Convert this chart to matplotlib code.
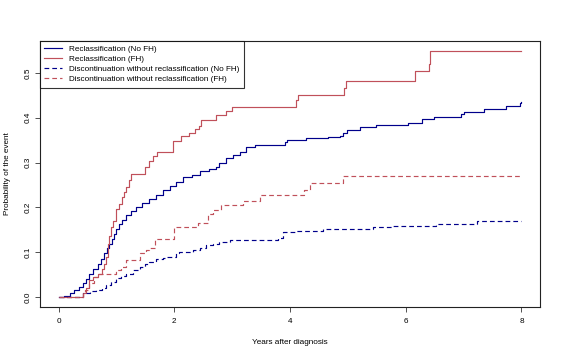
import matplotlib
matplotlib.use("Agg")
import matplotlib.pyplot as plt

# step curves (time in years, cumulative probability)
nofh_reclass_t = [0, 0.10, 0.19, 0.27, 0.36, 0.42, 0.48, 0.53, 0.60, 0.68, 0.73, 0.79, 0.84, 0.88, 0.92,
                  0.96, 1.00, 1.05, 1.10, 1.17, 1.25, 1.34, 1.45, 1.57, 1.68, 1.80, 1.92, 2.03, 2.15, 2.30,
                  2.44, 2.60, 2.72, 2.78, 2.90, 3.01, 3.13, 3.24, 3.39, 3.91, 3.94, 4.28, 4.66, 4.86, 4.92,
                  4.98, 5.21, 5.48, 6.04, 6.28, 6.48, 6.95, 7.00, 7.36, 7.74, 7.97, 8.0]
nofh_reclass_p = [0, 0.003, 0.008, 0.015, 0.022, 0.03, 0.04, 0.052, 0.062, 0.074, 0.085, 0.097, 0.108, 0.119, 0.13,
                  0.141, 0.152, 0.163, 0.172, 0.182, 0.191, 0.2, 0.21, 0.219, 0.228, 0.238, 0.247, 0.256, 0.267, 0.273,
                  0.28, 0.285, 0.29, 0.30, 0.31, 0.316, 0.323, 0.334, 0.34, 0.345, 0.351, 0.355, 0.357, 0.36, 0.367,
                  0.373, 0.379, 0.384, 0.388, 0.397, 0.402, 0.408, 0.413, 0.42, 0.426, 0.433, 0.435]

fh_reclass_t = [0, 0.42, 0.48, 0.53, 0.60, 0.68, 0.75, 0.79, 0.82, 0.85, 0.88, 0.91, 0.95, 0.99, 1.05,
                1.10, 1.14, 1.17, 1.21, 1.25, 1.50, 1.57, 1.64, 1.71, 1.97, 2.12, 2.26, 2.36, 2.42, 2.47,
                2.72, 2.89, 3.00, 4.11, 4.14, 4.93, 4.96, 6.16, 6.40, 6.42, 8.0]
fh_reclass_p = [0, 0.008, 0.02, 0.037, 0.045, 0.05, 0.062, 0.074, 0.09, 0.119, 0.135, 0.156, 0.17, 0.197, 0.208,
                0.222, 0.235, 0.245, 0.26, 0.275, 0.29, 0.304, 0.314, 0.323, 0.349, 0.359, 0.365, 0.375, 0.382, 0.395,
                0.405, 0.415, 0.425, 0.44, 0.451, 0.466, 0.482, 0.504, 0.52, 0.549, 0.549]

nofh_disc_t = [0, 0.42, 0.55, 0.65, 0.75, 0.82, 0.90, 0.99, 1.08, 1.17, 1.28, 1.40, 1.50, 1.57, 1.68,
               1.80, 1.86, 2.03, 2.09, 2.32, 2.44, 2.55, 2.67, 2.78, 2.96, 3.79, 3.88, 4.11, 4.57, 5.43,
               5.78, 6.53, 7.23, 8.0]
nofh_disc_p = [0, 0.008, 0.012, 0.015, 0.02, 0.026, 0.033, 0.041, 0.047, 0.052, 0.06, 0.067, 0.073, 0.078, 0.084,
               0.087, 0.089, 0.097, 0.10, 0.104, 0.108, 0.115, 0.118, 0.122, 0.128, 0.131, 0.145, 0.146, 0.152, 0.156,
               0.159, 0.163, 0.170, 0.170]

fh_disc_t = [0, 0.42, 0.45, 0.53, 0.62, 0.68, 0.99, 1.08, 1.17, 1.40, 1.51, 1.57, 1.66, 2.00, 2.41,
             2.58, 2.67, 2.81, 3.19, 3.48, 4.25, 4.34, 4.92, 8.0]
fh_disc_p = [0, 0.008, 0.015, 0.03, 0.045, 0.052, 0.06, 0.067, 0.082, 0.097, 0.105, 0.11, 0.13, 0.156, 0.165,
             0.186, 0.195, 0.204, 0.214, 0.227, 0.238, 0.254, 0.269, 0.269]

labels = ["Reclassification (No FH)", "Reclassification (FH)",
          "Discontinuation without reclassification (No FH)",
          "Discontinuation without reclassification (FH)"]
x_ticks = [0, 2, 4, 6, 8]
y_ticks = [0.0, 0.1, 0.2, 0.3, 0.4, 0.5]

blue = "#00008B"
red = "#C0505A"
fs = 5.85
lw = 0.85

plt.rcParams['font.family'] = ['Liberation Sans', 'DejaVu Sans']

fig = plt.figure(figsize=(5.62, 3.58), dpi=100)
ax = fig.add_axes([40 / 562, 1 - 306.7 / 358, 500 / 562, 266 / 358])

ax.step(nofh_reclass_t, nofh_reclass_p, where='post', color=blue, lw=lw, label=labels[0])
ax.step(fh_reclass_t, fh_reclass_p, where='post', color=red, lw=lw, label=labels[1])
l3, = ax.step(nofh_disc_t, nofh_disc_p, where='post', color=blue, lw=lw, label=labels[2])
l4, = ax.step(fh_disc_t, fh_disc_p, where='post', color=red, lw=lw, label=labels[3])
l3.set_dashes((4.0, 2.6))
l4.set_dashes((4.0, 2.6))

ax.set_xlim(-0.32, 8.32)
ax.set_ylim(-0.022, 0.572)
ax.set_xticks(x_ticks)
ax.set_xticklabels([str(v) for v in x_ticks])
ax.set_yticks(y_ticks)
ax.set_yticklabels(["%.1f" % v for v in y_ticks], rotation=90, va='center')
ax.tick_params(direction='out', length=3.6, width=0.6, labelsize=fs, color='#333333')
ax.tick_params(axis='x', pad=4.5)
ax.tick_params(axis='y', pad=2.2)
for s in ax.spines.values():
    s.set_linewidth(0.8)
    s.set_color('#222222')

ax.set_xlabel("Years after diagnosis", fontsize=fs)
ax.set_ylabel("Probability of the event", fontsize=fs)
ax.xaxis.set_label_coords(0.5, -0.12)
ax.yaxis.set_label_coords(-0.058, 0.5)

leg = ax.legend(loc='upper left', borderaxespad=0, fontsize=fs, handlelength=2.2,
                handletextpad=0.8, labelspacing=0.3, borderpad=0.55, fancybox=False)
leg.get_frame().set_edgecolor('black')
leg.get_frame().set_linewidth(0.8)

fig.savefig("out.png", dpi=100)
